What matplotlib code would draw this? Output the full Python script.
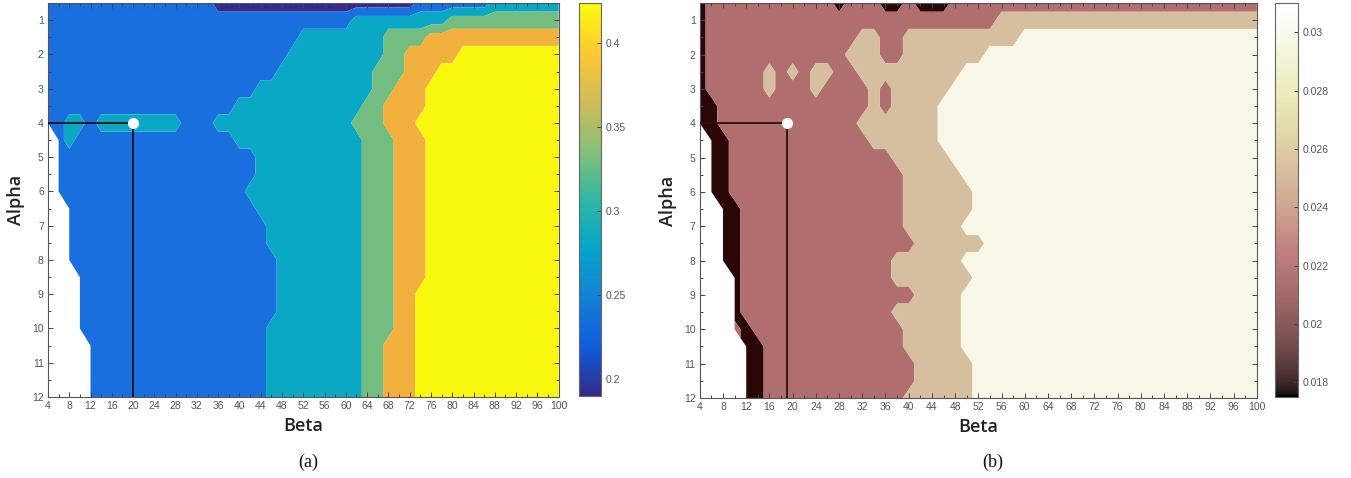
import numpy as np
import matplotlib
matplotlib.use("Agg")
import matplotlib.pyplot as plt
from matplotlib.colors import LinearSegmentedColormap, ListedColormap, Normalize
from matplotlib.cm import ScalarMappable
from matplotlib.ticker import MultipleLocator

# grid the maps were sampled on
ALPHA = np.arange(0.5, 12.01, 0.5)
BETA = np.arange(4, 101, 2)

# each row (alpha = 0.5 ... 12) as "band-lastbeta" runs, '.' = no data
# (a) bands: 0 navy, 1 blue, 2 teal, 3 green, 4 orange, 5 yellow
left_rows = [
    "1-34 0-72 1-86 2-100",
    "1-60 2-78 3-100",
    "1-50 2-66 3-74 4-100",
    "1-48 2-66 3-70 4-80 5-100",
    "1-46 2-64 3-70 4-76 5-100",
    "1-42 2-64 3-68 4-74 5-100",
    "1-38 2-62 3-66 4-74 5-100",
    "1-6 2-10 1-12 2-28 1-34 2-60 3-66 4-72 5-100",
    ".-4 1-6 2-8 1-38 2-62 3-68 4-74 5-100",
    ".-4 1-42 2-62 3-68 4-74 5-100",
    ".-4 1-42 2-62 3-68 4-74 5-100",
    ".-4 1-40 2-62 3-68 4-74 5-100",
    ".-6 1-42 2-62 3-68 4-74 5-100",
    ".-6 1-44 2-62 3-68 4-74 5-100",
    ".-6 1-44 2-62 3-68 4-74 5-100",
    ".-6 1-46 2-62 3-68 4-74 5-100",
    ".-8 1-46 2-62 3-68 4-74 5-100",
    ".-8 1-46 2-62 3-68 4-72 5-100",
    ".-8 1-46 2-62 3-68 4-72 5-100",
    ".-8 1-44 2-62 3-68 4-72 5-100",
    ".-10 1-44 2-62 3-66 4-72 5-100",
    ".-10 1-44 2-62 3-66 4-72 5-100",
    ".-10 1-44 2-62 3-66 4-72 5-100",
    ".-10 1-44 2-62 3-66 4-72 5-100",
]
left_colors = ["#36298a", "#1a6fdf", "#0ba8c6", "#72bd7f", "#f2b03f", "#f8f80e"]

# (b) bands: 0 dark, 1 rose, 2 tan, 3 cream
right_rows = [
    "0-4 1-26 0-28 1-34 0-38 1-40 0-46 1-100",
    "0-4 1-54 2-100",
    "0-4 1-30 2-34 1-38 2-58 3-100",
    "0-4 1-28 2-34 1-38 2-52 3-100",
    "0-4 1-14 2-16 1-18 2-20 1-22 2-26 1-30 2-48 3-100",
    "0-4 1-14 2-16 1-22 2-24 1-32 2-34 1-36 2-46 3-100",
    "0-6 1-32 2-34 1-36 2-44 3-100",
    "0-6 1-30 2-44 3-100",
    ".-4 0-8 1-32 2-44 3-100",
    ".-4 0-8 1-36 2-46 3-100",
    ".-4 0-8 1-38 2-48 3-100",
    ".-4 0-8 1-38 2-50 3-100",
    ".-6 0-10 1-38 2-50 3-100",
    ".-6 0-10 1-38 2-48 3-100",
    ".-6 0-10 1-40 2-52 3-100",
    ".-6 0-10 1-36 2-48 3-100",
    ".-8 0-10 1-36 2-50 3-100",
    ".-8 0-10 1-40 2-48 3-100",
    ".-8 0-10 1-36 2-48 3-100",
    ".-8 1-10 0-12 1-38 2-48 3-100",
    ".-10 0-14 1-38 2-48 3-100",
    ".-10 0-14 1-40 2-50 3-100",
    ".-10 0-14 1-40 2-50 3-100",
    ".-10 0-14 1-38 2-50 3-100",
]
right_colors = ["#2b0606", "#b06e6e", "#d6bf9e", "#f8f6e6"]

# chosen (beta, alpha) point on each map
best_a = (20, 4)
best_b = (19, 4)

left_cbar = (0.19, 0.424, [0.2, 0.25, 0.3, 0.35, 0.4])
right_cbar = (0.0175, 0.031, [0.018, 0.02, 0.022, 0.024, 0.026, 0.028, 0.03])


def build_grid(rows):
    grid = np.full((len(ALPHA), len(BETA)), np.nan)
    for i, row in enumerate(rows):
        start = 0
        for tok in row.split():
            band, last = tok.split("-")
            sel = (BETA >= start) & (BETA <= int(last))
            grid[i, sel] = np.nan if band == "." else float(band)
            start = int(last) + 1
    return np.ma.masked_invalid(grid)


parula = LinearSegmentedColormap.from_list(
    "parula", ["#352a87", "#0f5cdd", "#1481d6", "#06a4ca", "#2eb7a4",
               "#87bf77", "#d1bb59", "#fec832", "#f9fb0e"])

x = np.linspace(0, 1, 256)
hot = np.stack([np.clip(x * 8 / 3, 0, 1), np.clip(x * 8 / 3 - 1, 0, 1),
                np.clip(4 * x - 3, 0, 1)], axis=1)
pink = ListedColormap(np.sqrt((2 * x[:, None] + hot) / 3))

tick_font = {"family": "Liberation Sans", "size": 7.5}
label_font = {"family": "Open Sans", "size": 13, "color": "#222222", "weight": 600}

fig = plt.figure(figsize=(13.51, 4.78), dpi=100)

panels = [
    (left_rows, left_colors, best_a, parula, left_cbar,
     [0.0355, 0.1695, 0.378, 0.824], [0.4286, 0.1715, 0.0163, 0.822], "#111111", "(a)", 0.228),
    (right_rows, right_colors, best_b, pink, right_cbar,
     [0.518, 0.1674, 0.4123, 0.826], [0.9437, 0.1695, 0.017, 0.824], "#2a1010", "(b)", 0.735),
]

for rows, colors, best, cmap, cb, apos, cpos, lc, cap, capx in panels:
    ax = fig.add_axes(apos)
    grid = build_grid(rows)
    ax.contourf(BETA, ALPHA, grid, levels=np.arange(-0.5, len(colors)), colors=colors,
                corner_mask=True, antialiased=True)
    ax.plot([BETA[0], best[0]], [best[1], best[1]], color=lc, lw=1.3, zorder=4)
    ax.plot([best[0], best[0]], [best[1], ALPHA[-1]], color=lc, lw=1.3, zorder=4)
    ax.plot(best[0], best[1], "o", color="white", ms=7, mec="white", zorder=5)

    ax.set_xlim(4, 100)
    ax.set_ylim(12, 0.5)
    ax.set_xticks(np.arange(4, 101, 4))
    ax.set_yticks(np.arange(1, 13))
    ax.xaxis.set_minor_locator(MultipleLocator(2))
    ax.yaxis.set_minor_locator(MultipleLocator(0.5))
    ax.tick_params(which="both", direction="in", top=True, right=True,
                   color="#444444", labelcolor="#555555", width=0.7)
    ax.tick_params(which="major", length=3.5, pad=3)
    ax.tick_params(which="minor", length=2)
    for lab in ax.get_xticklabels() + ax.get_yticklabels():
        lab.set_fontfamily(tick_font["family"])
        lab.set_fontsize(tick_font["size"])
    for sp in ax.spines.values():
        sp.set_color("#555555")
        sp.set_linewidth(0.8)
    ax.set_xlabel("Beta", fontdict=label_font, labelpad=4)
    ax.set_ylabel("Alpha", fontdict=label_font, labelpad=5)

    cax = fig.add_axes(cpos)
    sm = ScalarMappable(norm=Normalize(cb[0], cb[1]), cmap=cmap)
    cbar = fig.colorbar(sm, cax=cax, ticks=cb[2])
    cbar.ax.set_yticklabels([f"{t:g}" for t in cb[2]], fontfamily=tick_font["family"],
                            fontsize=tick_font["size"], color="#555555")
    cbar.ax.tick_params(direction="in", length=3, color="#444444", width=0.7)
    cbar.outline.set_edgecolor("#666666")
    cbar.outline.set_linewidth(0.8)

    fig.text(capx, 0.033, cap, ha="center", va="center", family="Liberation Serif",
             fontsize=13, color="#111111")

fig.savefig("out.png", dpi=100)
